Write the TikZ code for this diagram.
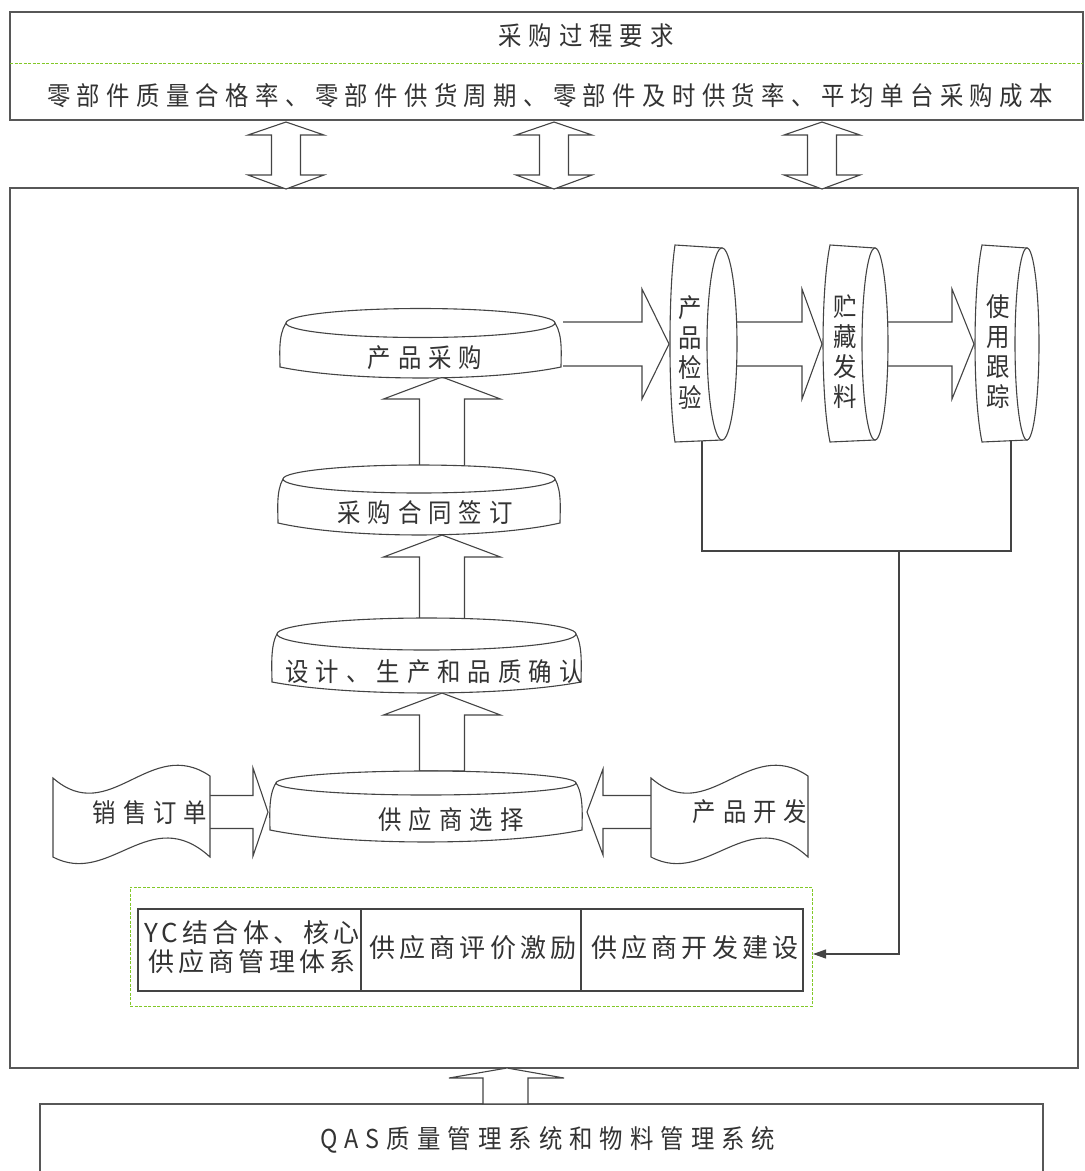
\documentclass[tikz,border=0pt]{standalone}
\usepackage{fontspec}
\newfontfamily\cjk[FakeStretch=0.9,LetterSpace=27]{Noto Sans CJK SC}
\newfontfamily\cjkr[FakeStretch=0.9,LetterSpace=24.5]{Noto Sans CJK SC}
\newfontfamily\cjkv[FakeStretch=0.9]{Noto Sans CJK SC}
\newfontfamily\cjkt[LetterSpace=16]{Noto Sans CJK SC}
\usetikzlibrary{arrows.meta}
\definecolor{lnc}{HTML}{444444}
\definecolor{txc}{HTML}{333333}
\definecolor{grn}{RGB}{130,200,40}
\tikzset{
  ln/.style={draw=lnc, line width=1.1pt, line join=miter},
  boxln/.style={draw=lnc!90, line width=1.6pt},
  blockarrow/.style={ln, fill=white},
  txt/.style={font=\cjk\fontsize{26}{30}\selectfont, text=txc, inner sep=0pt},
  rtxt/.style={font=\cjkr\fontsize{26}{30}\selectfont, text=txc, inner sep=0pt},
  vtxt/.style={font=\cjkv\fontsize{26}{30}\selectfont, text=txc, align=center, inner sep=0pt},
  ttxt/.style={font=\cjkt\fontsize{26}{29}\selectfont, text=txc, align=center, inner sep=0pt},
  gdash/.style={draw=grn, line width=1pt, dash pattern=on 3pt off 1.5pt},
}
% horizontal disc: x1, x2, yc, ry, d, yb, sag
\newcommand\hdisc[7]{%
  \draw[ln, fill=white] (#1,#3) .. controls ({#1-#5-2},{#3+12}) and ({#1-#5},{#6-12}) .. ({#1-#5},#6)
    .. controls ({#1-#5+0.25*(#2-#1+2*#5)},{#6+1.33*#7}) and ({#2+#5-0.25*(#2-#1+2*#5)},{#6+1.33*#7}) .. ({#2+#5},#6)
    .. controls ({#2+#5},{#6-12}) and ({#2+#5+2},{#3+12}) .. (#2,#3) -- cycle;
  \draw[ln, fill=white] ({(#1+#2)/2},#3) ellipse [x radius={(#2-#1)/2}, y radius=#4];
}
% vertical disc: xl, xb (control), cx, rx
\newcommand\vdisc[4]{%
  \draw[ln, fill=white] (#3,248) -- (#1,245) .. controls (#2,290) and (#2,398) .. (#1,442) -- (#3,440) -- cycle;
  \draw[ln, fill=white] (#3,344) ellipse [x radius=#4, y radius=96];
}
% horizontal block arrow: x start, head base x, tip x, cy, shaft half, head half
\newcommand\harr[6]{%
  \draw[blockarrow] (#1,{#4-#5}) -- (#2,{#4-#5}) -- (#2,{#4-#6}) -- (#3,#4) -- (#2,{#4+#6}) -- (#2,{#4+#5}) -- (#1,{#4+#5});
}
% vertical up block arrow: cx, tip y, bottom y
\newcommand\uarr[3]{%
  \draw[blockarrow] (#1,#2) -- ({#1+58.5},{#2+22}) -- ({#1+22.5},{#2+22}) -- ({#1+22.5},#3) -- ({#1-22.5},#3) -- ({#1-22.5},{#2+22}) -- ({#1-58.5},{#2+22}) -- cycle;
}
% wavy document shape with x offset
\newcommand\docshape[1]{%
  \begin{scope}[xshift=#1]
  \draw[ln, fill=white] (53,778) .. controls (110,828) and (150,735) .. (210,776) -- (210,857)
     .. controls (150,802) and (110,887) .. (53,857) -- cycle;
  \end{scope}
}
\begin{document}
\begin{tikzpicture}[x=1pt,y=-1pt]
\useasboundingbox (0,0) rectangle (1085,1171);

% top requirement box
\node[boxln, minimum width=1073pt, minimum height=108pt, inner sep=0pt] (top) at (546.5,66) {};
\draw[gdash] (10,63) -- (1083,63);
\node[txt] (title) at (586,36) {采购过程要求};
\node[rtxt] (req) at (550,96) {零部件质量合格率、零部件供货周期、零部件及时供货率、平均单台采购成本};

% main box
\node[boxln, minimum width=1068pt, minimum height=880pt, inner sep=0pt] (main) at (544,628) {};

% double arrows
\foreach \cx in {286,554,822}{
  \draw[blockarrow] (\cx,122) -- (\cx+38,135) -- (\cx+14.5,135) -- (\cx+14.5,175) -- (\cx+38,175)
    -- (\cx,189) -- (\cx-38,175) -- (\cx-14.5,175) -- (\cx-14.5,135) -- (\cx-38,135) -- cycle;
}

% block arrows
\uarr{442}{377}{466}
\uarr{442}{535}{620}
\uarr{442}{693}{771}
\harr{563}{642}{669}{344}{22}{55}
\harr{737}{802}{822}{344}{22}{55}
\harr{888}{952}{974}{344}{22}{55}
\harr{210}{253}{268}{812}{16.5}{44}
\harr{651}{603}{587}{812}{16.5}{43}

% discs
\hdisc{286}{555}{323}{14.5}{6}{367}{11}
\node[txt] (buy) at (425,358) {产品采购};
\hdisc{283}{555}{479}{14}{5}{523}{12}
\node[txt] (contract) at (425,513) {采购合同签订};
\hdisc{277}{576}{634}{16}{5}{682}{11}
\node[txt] (design) at (434,672) {设计、生产和品质确认};
\hdisc{276}{576}{783}{12}{6}{830}{12}
\node[txt] (select) at (451,820) {供应商选择};

\vdisc{675}{668.3}{722}{15}
\node[vtxt] (inspect) at (690,352) {产\\品\\检\\验};
\vdisc{830}{820.7}{875}{13}
\node[vtxt] (store) at (845,352) {贮\\藏\\发\\料};
\vdisc{982}{972.7}{1027}{12}
\node[vtxt] (track) at (998,352) {使\\用\\跟\\踪};

% document shapes
\docshape{0}
\node[txt] (order) at (150,813) {销售订单};
\docshape{598}
\node[txt] (dev) at (750,812) {产品开发};

% supplier management group
\node[gdash, minimum width=682pt, minimum height=119pt, inner sep=0pt] (grp) at (471,946.5) {};
\node[ln, minimum width=223pt, minimum height=82pt, inner sep=0pt] (c1) at (249.5,950) {};
\node[ln, minimum width=220pt, minimum height=82pt, inner sep=0pt] (c2) at (471,950) {};
\node[ln, minimum width=222pt, minimum height=82pt, inner sep=0pt] (c3) at (692,950) {};
\node[ttxt] (t1) at (252,947.5) {YC结合体、核心\\供应商管理体系};
\node[ttxt] (t2) at (473,948) {供应商评价激励};
\node[ttxt] (t3) at (695,948) {供应商开发建设};

% feedback connector
\coordinate (f1) at (702,441);
\coordinate (f2) at (1011,441);
\coordinate (b1) at (702,551);
\coordinate (b2) at (1011,551);
\coordinate (m) at (899,551);
\coordinate (tgt) at (813,954);
\draw[ln] (f1) -- (b1) -- (b2) -- (f2);
\draw[ln, -{Triangle[length=13pt,width=9pt]}] (m) |- (tgt);

% QAS box
\draw[boxln] (40,1172) -- (40,1104) -- (1043,1104) -- (1043,1172);
\node[txt] (qas) at (548,1140) {QAS质量管理系统和物料管理系统};
\draw[blockarrow] (507,1068) -- (564,1078) -- (528,1078) -- (528,1104) -- (483,1104) -- (483,1078) -- (449,1078) -- cycle;
\end{tikzpicture}
\end{document}
